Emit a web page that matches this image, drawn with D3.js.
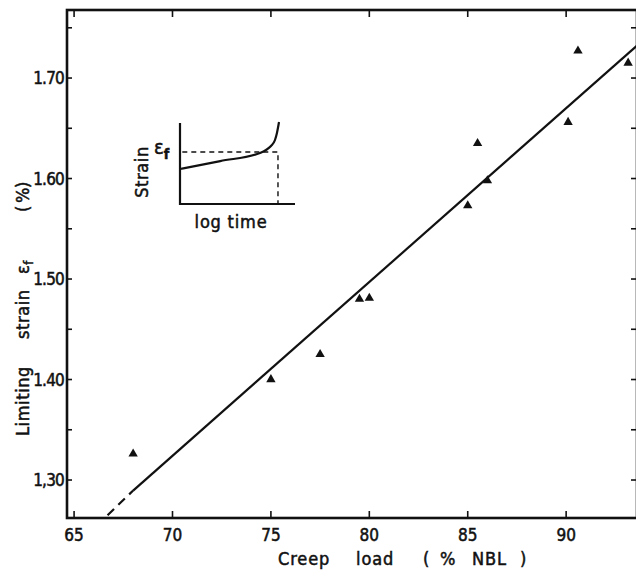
<!DOCTYPE html>
<html>
<head>
<meta charset="utf-8">
<script src="https://cdn.jsdelivr.net/npm/d3@7"></script>
<style>
  body { margin: 0; background: #fff; }
  text { font-family: "DejaVu Sans Condensed", "DejaVu Sans", sans-serif; fill: #111; stroke: #111; stroke-width: 0.5px; }
</style>
</head>
<body>
<div id="chart"></div>
<script>
// main plot data
const creepLoad = [68.0, 75.0, 77.5, 79.5, 80.0, 85.0, 85.5, 86.0, 90.1, 90.6, 93.15];
const limitingStrain = [1.326, 1.400, 1.425, 1.480, 1.481, 1.573, 1.635, 1.598, 1.656, 1.727, 1.715];

// fitted line (dashed extrapolation, then solid)
const fitLoad = [66.7, 68.0, 93.7];
const fitStrain = [1.265, 1.2895, 1.734];

const xTicks = [65, 70, 75, 80, 85, 90];
const yTicks = [1.30, 1.40, 1.50, 1.60, 1.70];
const yTickLabels = ["1,30", "1.40", "1.50", "1.60", "1.70"];
const yMinor = [1.30, 1.35, 1.40, 1.45, 1.50, 1.55, 1.60, 1.65, 1.70, 1.75];

// inset sketch (unitless)
const insetTime = [0, 0.35, 0.696, 0.748, 0.791, 0.826, 0.843, 0.861];
const insetStrain = [0.432, 0.53, 0.630, 0.667, 0.716, 0.790, 0.877, 1.012];
const insetFailTime = 0.852;
const insetFailStrain = 0.642;

const width = 636, height = 573;
const mLeft = 67, mTop = 10, mRight = 637, mBottom = 518;

const x = d3.scaleLinear().domain([64.64, 93.6]).range([mLeft, mRight]);
const y = d3.scaleLinear().domain([1.2622, 1.7677]).range([mBottom, mTop]);

const svg = d3.select("#chart").append("svg")
  .attr("width", width)
  .attr("height", height);

// frame
svg.append("rect")
  .attr("x", mLeft).attr("y", mTop)
  .attr("width", mRight - mLeft).attr("height", mBottom - mTop)
  .attr("fill", "none").attr("stroke", "#111").attr("stroke-width", 2.6);

// ticks (inward)
const tk = svg.append("g").attr("stroke", "#111").attr("stroke-width", 1.6);
tk.append("g").selectAll("line").data(xTicks).join("line")
  .attr("x1", d => x(d)).attr("x2", d => x(d))
  .attr("y1", mBottom).attr("y2", mBottom - 7);
tk.append("g").selectAll("line").data(xTicks).join("line")
  .attr("x1", d => x(d)).attr("x2", d => x(d))
  .attr("y1", mTop).attr("y2", mTop + 7);
tk.append("g").selectAll("line").data(yMinor).join("line")
  .attr("x1", mLeft).attr("x2", mLeft + 5)
  .attr("y1", d => y(d)).attr("y2", d => y(d));
tk.append("g").selectAll("line").data(yMinor).join("line")
  .attr("x1", mRight).attr("x2", mRight - 6)
  .attr("y1", d => y(d)).attr("y2", d => y(d));

// tick labels
svg.append("g").selectAll("text").data(xTicks).join("text")
  .attr("x", d => x(d)).attr("y", 541)
  .attr("text-anchor", "middle")
  .attr("font-size", 17)
  .text(d => d);

svg.append("g").selectAll("text").data(yTicks).join("text")
  .attr("x", mLeft - 3).attr("y", d => y(d) + 6)
  .attr("text-anchor", "end")
  .attr("font-size", 17)
  .attr("letter-spacing", -0.8)
  .text((d, i) => yTickLabels[i]);

// x axis title
const xt = svg.append("text").attr("y", 565).attr("font-size", 18).attr("letter-spacing", 0.9);
xt.append("tspan").attr("x", 278).text("Creep");
xt.append("tspan").attr("x", 356).text("load");
xt.append("tspan").attr("x", 423).text("(");
xt.append("tspan").attr("x", 440).text("%");
xt.append("tspan").attr("x", 472).text("NBL");
xt.append("tspan").attr("x", 520).text(")");

// y axis title (rotated)
const yt = svg.append("text")
  .attr("transform", "translate(29,0) rotate(-90)")
  .attr("font-size", 18)
  .attr("letter-spacing", 0.6);
yt.append("tspan").attr("x", -436).text("Limiting");
yt.append("tspan").attr("x", -339).text("strain");
yt.append("tspan").attr("x", -274).text("ε");
yt.append("tspan").attr("dy", 4).attr("font-size", 13).text("f");
yt.append("tspan").attr("x", -212).attr("dy", -4).text("(");
yt.append("tspan").attr("x", -203).text("%");
yt.append("tspan").attr("x", -188).text(")");

// fitted line
const line = d3.line().x(d => x(d[0])).y(d => y(d[1]));
const fit = fitLoad.map((d, i) => [d, fitStrain[i]]);
svg.append("path")
  .attr("d", line(fit.slice(0, 2)))
  .attr("fill", "none").attr("stroke", "#111").attr("stroke-width", 2.2)
  .attr("stroke-dasharray", "9,6");
svg.append("path")
  .attr("d", line(fit.slice(1)))
  .attr("fill", "none").attr("stroke", "#111").attr("stroke-width", 2.2);

// data triangles
svg.append("g").selectAll("path").data(creepLoad).join("path")
  .attr("transform", (d, i) => `translate(${x(d)},${y(limitingStrain[i])})`)
  .attr("d", d3.symbol(d3.symbolTriangle, 38))
  .attr("fill", "#111");

// inset
const ix = d3.scaleLinear().domain([0, 1]).range([180, 295]);
const iy = d3.scaleLinear().domain([0, 1]).range([204, 123]);
const inset = svg.append("g");
inset.append("path")
  .attr("d", `M${ix(0)},${iy(1)}V${iy(0)}H${ix(1)}`)
  .attr("fill", "none").attr("stroke", "#111").attr("stroke-width", 2.2);
inset.append("path")
  .attr("d", d3.line().x(d => ix(d[0])).y(d => iy(d[1])).curve(d3.curveMonotoneX)(insetTime.map((d, i) => [d, insetStrain[i]])))
  .attr("fill", "none").attr("stroke", "#111").attr("stroke-width", 2.2);
inset.append("path")
  .attr("d", `M${ix(0.02)},${iy(insetFailStrain)}H${ix(insetFailTime)}V${iy(0)}`)
  .attr("fill", "none").attr("stroke", "#111").attr("stroke-width", 1.4)
  .attr("stroke-dasharray", "5,4");
inset.append("text")
  .attr("transform", `translate(${148},${172}) rotate(-90)`)
  .attr("text-anchor", "middle")
  .attr("font-size", 18)
  .attr("letter-spacing", 0.6)
  .text("Strain");
const ef = inset.append("text").attr("x", 154).attr("y", 154).attr("font-size", 20);
ef.append("tspan").text("ε");
ef.append("tspan").attr("dy", 5).attr("font-size", 14).attr("font-weight", "bold").text("f");
inset.append("text")
  .attr("x", 231).attr("y", 228)
  .attr("text-anchor", "middle")
  .attr("font-size", 18)
  .attr("letter-spacing", 0.8)
  .text("log time");
</script>
</body>
</html>
